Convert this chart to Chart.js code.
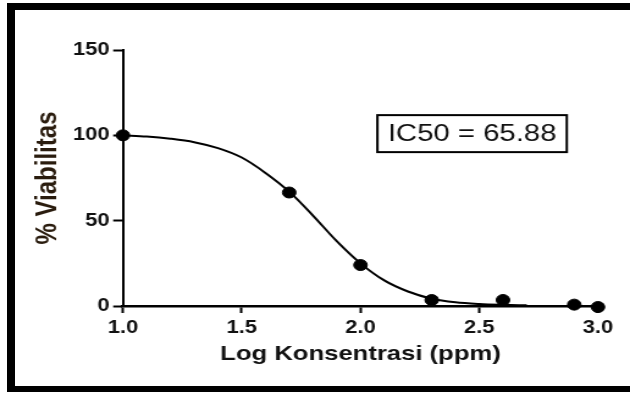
<!DOCTYPE html>
<html lang="id">
<head>
    <meta charset="UTF-8">
    <title>IC50 Viabilitas</title>
    <style>
        body {
            margin: 0;
            width: 630px;
            height: 393px;
            overflow: hidden;
            background: #ffffff;
            position: relative;
            font-family: 'Liberation Sans', Arial, sans-serif;
        }
        /* the picture is a slightly wide-stretched copy, so stretch the chart too */
        .stretch {
            position: absolute;
            left: 0;
            top: 0;
            width: 516px;
            height: 393px;
            transform: scaleX(1.2209);
            transform-origin: 0 0;
        }
        .frame {
            position: absolute;
            left: 7px;
            top: 3px;
            width: 660px;
            height: 389px;
            box-sizing: border-box;
            border-left: 8px solid #000;
            border-top: 7px solid #000;
            border-bottom: 6px solid #000;
            pointer-events: none;
        }
    </style>
</head>
<body>
    <div class="stretch">
        <canvas id="ic50Chart"></canvas>
    </div>
    <div class="frame"></div>

    <script src="https://cdn.jsdelivr.net/npm/chart.js"></script>
    <script>
        // measured points (log concentration vs % viability)
        const logKonsentrasi = [1.0, 1.7, 2.0, 2.3, 2.6, 2.9, 3.0];
        const viabilitas = [100, 66.5, 24, 3.5, 3.5, 0.8, -0.6];

        // fitted curve
        const curveX = [1.0, 1.1, 1.2, 1.3, 1.4, 1.5, 1.6, 1.7, 1.8, 1.9, 2.0, 2.1, 2.2, 2.3, 2.4, 2.5, 2.6, 2.7];
        const curveY = [100, 99.3, 98, 96, 92.5, 87, 78, 67, 53, 38, 25, 15, 8.5, 4.3, 2.2, 1.2, 0.7, 0.4];

        const xTicks = [1.0, 1.5, 2.0, 2.5, 3.0];
        const yTicks = [0, 50, 100, 150];

        const ic50Label = 'IC50 = 65.88';
        const ic50Anchor = [2.47, 101]; // where the box sits, in data units

        const fontFamily = "'Liberation Sans', Arial, sans-serif";
        Chart.defaults.font.family = fontFamily;

        const toPoints = (xs, ys) => xs.map((x, i) => ({ x: x, y: ys[i] }));

        // draws the boxed IC50 text
        const ic50Box = {
            id: 'ic50Box',
            afterDatasetsDraw(chart) {
                const ctx = chart.ctx;
                const cx = chart.scales.x.getPixelForValue(ic50Anchor[0]);
                const cy = chart.scales.y.getPixelForValue(ic50Anchor[1]);
                ctx.save();
                ctx.font = '24px ' + fontFamily;
                const w = ctx.measureText(ic50Label).width + 17;
                const h = 37;
                ctx.fillStyle = '#fff';
                ctx.fillRect(cx - w / 2, cy - h / 2, w, h);
                ctx.lineWidth = 2;
                ctx.strokeStyle = '#000';
                ctx.strokeRect(cx - w / 2, cy - h / 2, w, h);
                ctx.fillStyle = '#111';
                ctx.textAlign = 'center';
                ctx.textBaseline = 'middle';
                ctx.fillText(ic50Label, cx, cy + 1);
                ctx.restore();
            }
        };

        const ctx = document.getElementById('ic50Chart').getContext('2d');

        new Chart(ctx, {
            type: 'scatter',
            data: {
                datasets: [
                    {
                        label: 'Data',
                        data: toPoints(logKonsentrasi, viabilitas),
                        backgroundColor: '#000',
                        borderColor: '#000',
                        pointRadius: 5.5,
                        pointHoverRadius: 5.5,
                        showLine: false,
                        clip: false
                    },
                    {
                        label: 'Fit',
                        data: toPoints(curveX, curveY),
                        borderColor: '#000',
                        borderWidth: 2,
                        pointRadius: 0,
                        showLine: true,
                        cubicInterpolationMode: 'monotone',
                        clip: false
                    }
                ]
            },
            options: {
                responsive: true,
                maintainAspectRatio: false,
                animation: false,
                devicePixelRatio: 1,
                layout: {
                    padding: { left: 0, top: 50, right: 26.2, bottom: 0 }
                },
                plugins: {
                    legend: { display: false },
                    tooltip: { enabled: false }
                },
                scales: {
                    x: {
                        type: 'linear',
                        min: 1,
                        max: 3,
                        afterBuildTicks: (scale) => {
                            scale.ticks = xTicks.map(v => ({ value: v }));
                        },
                        afterFit: (scale) => { scale.height = 87; },
                        ticks: {
                            color: '#111',
                            font: { size: 18, weight: 'bold' },
                            padding: 4,
                            maxRotation: 0,
                            callback: (v) => Number(v).toFixed(1)
                        },
                        grid: {
                            display: true,
                            drawOnChartArea: false,
                            drawTicks: true,
                            tickLength: 7,
                            tickWidth: 2,
                            tickColor: '#000'
                        },
                        border: { display: true, color: '#000', width: 2.5 },
                        title: {
                            display: true,
                            text: 'Log Konsentrasi (ppm)',
                            color: '#111',
                            font: { size: 21, weight: 'bold' },
                            padding: { top: 0, bottom: 26 }
                        }
                    },
                    y: {
                        type: 'linear',
                        min: 0,
                        max: 150,
                        afterBuildTicks: (scale) => {
                            scale.ticks = yTicks.map(v => ({ value: v }));
                        },
                        afterFit: (scale) => { scale.width = 100.7; },
                        ticks: {
                            color: '#111',
                            font: { size: 18, weight: 'bold' },
                            padding: 3
                        },
                        grid: {
                            display: true,
                            drawOnChartArea: false,
                            drawTicks: true,
                            tickLength: 8,
                            tickWidth: 2,
                            tickColor: '#000'
                        },
                        border: { display: true, color: '#000', width: 2 },
                        title: {
                            display: true,
                            text: '% Viabilitas',
                            color: '#2a1c0e',
                            font: { size: 24, weight: 'bold' },
                            padding: { top: 25, bottom: 0 }
                        }
                    }
                }
            },
            plugins: [ic50Box]
        });
    </script>
</body>
</html>
